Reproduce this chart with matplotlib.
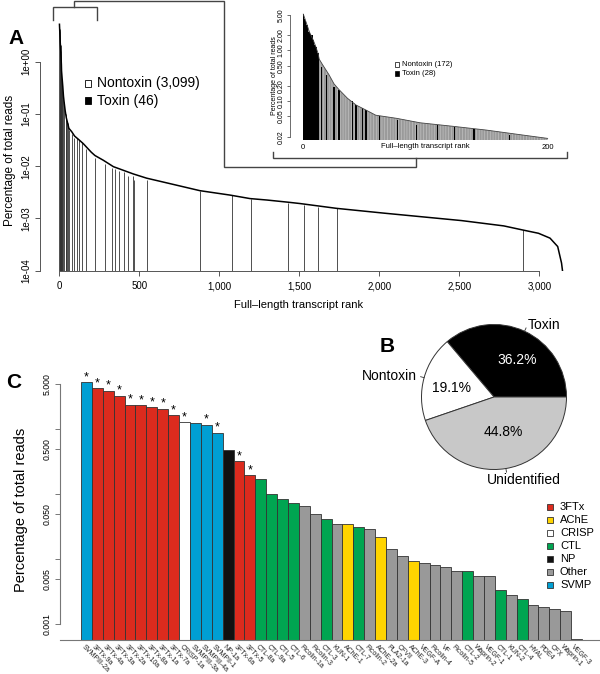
import matplotlib
matplotlib.use('Agg')
import matplotlib.pyplot as plt
from matplotlib.patches import Rectangle
from matplotlib.ticker import NullLocator
import numpy as np

plt.rcParams['font.family'] = ['Liberation Sans', 'DejaVu Sans']
plt.rcParams['hatch.linewidth'] = 0.45

# ---------------- DATA ----------------
# Rank-abundance curve of all full-length transcripts
curve_rank = [1, 4, 6, 9, 11, 13, 14, 17, 22, 26, 30, 37, 44, 52, 60, 77, 96, 123, 150, 177,
              200, 223, 275, 338, 463, 546, 671, 879, 1067, 1192, 1299, 1427, 1504, 1733,
              2033, 2514, 2778, 2898, 2995, 3067, 3115, 3139, 3145]
curve_value = [5.2, 3.22, 2.31, 1.62, 1.22, 0.877, 0.67, 0.51, 0.33, 0.22, 0.17, 0.114, 0.084,
               0.067, 0.053, 0.046, 0.0376, 0.032, 0.027, 0.022, 0.0185, 0.016, 0.013, 0.0098,
               0.0071, 0.0059, 0.0048, 0.0034, 0.0028, 0.0024, 0.00225, 0.00205, 0.00193,
               0.00156, 0.00126, 0.00091, 0.00072, 0.0006, 0.00052, 0.00042, 0.00029,
               0.00014, 0.0001]

# Toxin transcripts (46), ordered by abundance
toxin_names = ["SVMPIII-2a", "3FTx-9a", "3FTx-4a", "3FTx-3a", "3FTx-2a", "3FTx-10a", "3FTx-8a",
               "3FTx-1a", "3FTx-7a", "CRISP-1a", "SVMPIII-3a", "SVMPIII-4a", "SVMPII-1", "NP-1a",
               "3FTx-6a", "3FTx-5", "CTL-8a", "CTL-9a", "CTL-5", "CTL-6", "Ficolin-1a",
               "Ficolin-3", "CTL-3", "KUN-1", "AChE-1", "CTL-7", "Ficolin-2", "AChE-2a",
               "PLA2-1a", "CFVII", "AChE-3", "VEGF-A", "Ficolin-4", "VF", "Ficolin-5", "CTL-2",
               "Waprin-2", "VEGF-1", "CTL-1", "KUN-2", "CTL-4", "HYAL", "PDE4", "CFX",
               "Waprin-1", "VEGF-3"]
toxin_class = ["SVMP"] + ["3FTx"] * 8 + ["CRISP"] + ["SVMP"] * 3 + ["NP"] + ["3FTx"] * 2 + \
              ["CTL"] * 4 + ["Other"] * 2 + ["CTL", "Other", "AChE", "CTL", "Other", "AChE",
              "Other", "Other", "AChE", "Other", "Other", "Other", "Other", "CTL", "Other",
              "Other", "CTL", "Other", "CTL", "Other", "Other", "Other", "Other", "Other"]
toxin_value = [5.2, 4.23, 3.89, 3.22, 2.36, 2.31, 2.15, 2.05, 1.62, 1.28, 1.22, 1.16, 0.877,
               0.47, 0.322, 0.194, 0.168, 0.099, 0.083, 0.073, 0.066, 0.050, 0.042, 0.0345,
               0.0345, 0.0314, 0.0286, 0.0216, 0.0143, 0.0111, 0.0094, 0.0088, 0.0081, 0.0076,
               0.0066, 0.0066, 0.0055, 0.0055, 0.0034, 0.0028, 0.0024, 0.00196, 0.00181,
               0.00168, 0.00158, 0.0006]
toxin_rank = [1, 2, 3, 4, 5, 6, 7, 8, 9, 10, 11, 12, 13, 16, 20, 26, 30, 41, 44, 49, 52, 63,
              78, 93, 110, 124, 140, 169, 223, 286, 327, 348, 375, 404, 427, 463, 470, 546,
              879, 1078, 1198, 1427, 1528, 1620, 1733, 2898]
toxin_star = [1, 1, 1, 1, 1, 1, 1, 1, 1, 1, 0, 1, 1, 0, 1, 1] + [0] * 30

class_names = ["3FTx", "AChE", "CRISP", "CTL", "NP", "Other", "SVMP"]
class_colors = {"3FTx": "#DC2B1E", "AChE": "#FFD400", "CRISP": "#FFFFFF", "CTL": "#00A551",
                "NP": "#111111", "Other": "#999999", "SVMP": "#009FD3"}

pie_labels = ["Toxin", "Nontoxin", "Unidentified"]
pie_values = [36.2, 19.1, 44.8]
pie_colors = ["#000000", "#FFFFFF", "#C8C8C8"]

main_legend = ["Nontoxin (3,099)", "Toxin (46)"]
inset_legend = ["Nontoxin (172)", "Toxin (28)"]

# ---------------- FIGURE ----------------
W, H = 600, 674
fig = plt.figure(figsize=(6, 6.74), dpi=100)


def rect(l, t, r, b):
    return [l / W, 1 - b / H, (r - l) / W, (b - t) / H]


AX_COL = '#555555'

# ----- Panel A main -----
axA = fig.add_axes(rect(40, 20, 582, 270.7))
axA.set_yscale('log')
axA.set_xlim(-120.6, 3266.9)
axA.set_ylim(1e-4, 6.28)
axA.vlines(toxin_rank, 1e-4, toxin_value, color='#333333', lw=0.6, zorder=2)
axA.plot(curve_rank, curve_value, color='black', lw=1.1, zorder=3)
for s in ['top', 'right']:
    axA.spines[s].set_visible(False)
for s in ['left', 'bottom']:
    axA.spines[s].set_color(AX_COL)
    axA.spines[s].set_linewidth(0.7)
axA.spines['left'].set_bounds(1e-4, 1)
axA.spines['bottom'].set_bounds(0, 3000)
axA.set_yticks([1e-4, 1e-3, 1e-2, 1e-1, 1])
axA.set_yticklabels(['1e-04', '1e-03', '1e-02', '1e-01', '1e+00'], rotation=90, va='center')
axA.yaxis.set_minor_locator(NullLocator())
axA.set_xticks([0, 500, 1000, 1500, 2000, 2500, 3000])
axA.set_xticklabels(['0', '500', '1,000', '1,500', '2,000', '2,500', '3,000'])
axA.tick_params(length=3.6, width=0.7, color=AX_COL, labelsize=7, pad=2.5)
axA.tick_params(axis='x', pad=4)
axA.patch.set_alpha(0)

# ----- Inset -----
axI = fig.add_axes(rect(290, 12, 556, 140))
axI.set_yscale('log')
ybotI = 0.0172
axI.set_xlim(-10.34, 206.3)
axI.set_ylim(ybotI, 5.73)
sel = [i for i, r in enumerate(curve_rank) if r <= 200]
xs = [curve_rank[i] - 0.5 for i in sel]
ys = [curve_value[i] for i in sel]
axI.fill_between(xs, ybotI, ys, facecolor='#9a9a9a', edgecolor='#c4c4c4', hatch='||||||',
                 lw=0, zorder=1)
tsel = [i for i, r in enumerate(toxin_rank) if r <= 200]
axI.bar([toxin_rank[i] - 0.5 for i in tsel], [toxin_value[i] - ybotI for i in tsel],
        bottom=ybotI, width=1.0, color='black', lw=0, zorder=2)
axI.plot(xs, ys, color='#444444', lw=0.6, zorder=3)
for s in ['top', 'right', 'bottom']:
    axI.spines[s].set_visible(False)
axI.spines['left'].set_bounds(0.02, 5)
axI.spines['left'].set_color(AX_COL)
axI.spines['left'].set_linewidth(0.6)
axI.set_yticks([0.02, 0.05, 0.1, 0.2, 0.5, 1, 2, 5])
axI.set_yticklabels(['0.02', '0.05', '0.10', '0.20', '0.50', '1.00', '2.00', '5.00'],
                    rotation=90, va='center')
axI.yaxis.set_minor_locator(NullLocator())
axI.set_xticks([0, 200])
axI.set_xticklabels(['0', '200'])
axI.tick_params(axis='y', length=2.2, width=0.6, color=AX_COL, labelsize=5, pad=1.5)
axI.tick_params(axis='x', length=0, labelsize=5.5, pad=3)
axI.patch.set_alpha(0)

# ----- Panel C -----
axC = fig.add_axes(rect(60, 364, 600, 640))
axC.set_yscale('log')
ybotC = 0.00057
axC.set_xlim(-1.43, 48.15)
axC.set_ylim(ybotC, 10)
xpos = np.arange(1, len(toxin_value) + 1)
cols = [class_colors[c] for c in toxin_class]
axC.bar(xpos, [v - ybotC for v in toxin_value], bottom=ybotC, width=1.0, color=cols,
        edgecolor='#333333', lw=0.6, zorder=2)
for x, v, s in zip(xpos, toxin_value, toxin_star):
    if s:
        axC.annotate('*', xy=(x, v), xytext=(0, 1.5), textcoords='offset points',
                     ha='center', va='baseline', fontsize=9)
for x, name in zip(xpos, toxin_names):
    axC.annotate(name, xy=(x, 0), xycoords=('data', 'axes fraction'), xytext=(-1.2, -2.2),
                 textcoords='offset points', rotation=-45, rotation_mode='anchor',
                 ha='left', va='top', fontsize=5.0, color='#222222')
for s in ['top', 'right']:
    axC.spines[s].set_visible(False)
for s in ['left', 'bottom']:
    axC.spines[s].set_color('#777777')
    axC.spines[s].set_linewidth(0.8)
axC.spines['left'].set_bounds(0.001, 5)
axC.set_yticks([0.001, 0.005, 0.01, 0.05, 0.1, 0.5, 1, 5])
axC.set_yticklabels(['0.001', '0.005', '', '0.050', '', '0.500', '', '5.000'],
                    rotation=90, va='center')
axC.yaxis.set_minor_locator(NullLocator())
axC.set_xticks([])
axC.tick_params(axis='y', length=3.6, width=0.7, color='#777777', labelsize=6.3, pad=2.5)
axC.patch.set_alpha(0)

# ----- Panel B pie -----
cx, cy, R = 494, 397, 72.5
axP = fig.add_axes(rect(cx - R, cy - R, cx + R, cy + R))
axP.pie(pie_values, colors=pie_colors, startangle=0, counterclock=True,
        wedgeprops=dict(edgecolor='#333333', linewidth=0.7))
axP.set_xlim(-1, 1)
axP.set_ylim(-1, 1)
fracs = np.array(pie_values) / np.sum(pie_values)
starts = np.concatenate([[0], np.cumsum(fracs)[:-1]]) * 360
mids = np.deg2rad(starts + fracs * 180)
for k, ang in enumerate(mids):
    axP.plot([np.cos(ang), 1.05 * np.cos(ang)], [np.sin(ang), 1.05 * np.sin(ang)],
             color='#333333', lw=0.6, clip_on=False)
axP.text(1.1 * np.cos(mids[0]), 1.1 * np.sin(mids[0]), pie_labels[0], ha='left', va='center',
         fontsize=10, clip_on=False)
axP.text(1.1 * np.cos(mids[1]), 1.1 * np.sin(mids[1]), pie_labels[1], ha='right', va='center',
         fontsize=10, clip_on=False)
axP.text(0.41, -1.15, pie_labels[2], ha='center', va='center', fontsize=10, clip_on=False)
pct_pos = [(0.6, 58.5), (0.6, 168.0), (0.5, 284.5)]
pct_col = ['white', 'black', 'black']
for (rr, aa), v, c in zip(pct_pos, pie_values, pct_col):
    axP.text(rr * np.cos(np.deg2rad(aa)), rr * np.sin(np.deg2rad(aa)), f"{v:.1f}%",
             ha='center', va='center', fontsize=10, color=c)

# ----- Overlay (labels, legends, brackets) -----
ov = fig.add_axes([0, 0, 1, 1])
ov.set_xlim(0, W)
ov.set_ylim(H, 0)
ov.axis('off')
ov.patch.set_alpha(0)

ov.text(8, 38, 'A', fontsize=15, fontweight='bold', ha='left', va='center')
ov.text(380, 347, 'B', fontsize=15, fontweight='bold', ha='left', va='center')
ov.text(6, 383, 'C', fontsize=15, fontweight='bold', ha='left', va='center')

# axis titles
ov.text(10, 160, 'Percentage of total reads', rotation=90, ha='center', va='center', fontsize=8.5)
ov.text(299, 305, 'Full\u2013length transcript rank', ha='center', va='center', fontsize=8)
ov.text(275, 76, 'Percentage of total reads', rotation=90, ha='center', va='center', fontsize=5)
ov.text(425, 147, 'Full\u2013length transcript rank', ha='center', va='center', fontsize=5.5)
ov.text(21, 510, 'Percentage of total reads', rotation=90, ha='center', va='center', fontsize=10.5)

# main legend
for k, (lab, fc) in enumerate(zip(main_legend, ['white', 'black'])):
    y = 83.5 + 17 * k
    ov.add_patch(Rectangle((84.5, y - 3.3), 6.6, 6.6, facecolor=fc, edgecolor='black', lw=0.6))
    ov.text(97, y, lab, ha='left', va='center', fontsize=10)
# inset legend
for k, (lab, fc) in enumerate(zip(inset_legend, ['white', 'black'])):
    y = 64.5 + 9 * k
    ov.add_patch(Rectangle((395, y - 2.2), 4.4, 4.4, facecolor=fc, edgecolor='black', lw=0.5))
    ov.text(402, y, lab, ha='left', va='center', fontsize=5.5)
# panel C legend
for k, name in enumerate(class_names):
    y = 507 + 13 * k
    ov.add_patch(Rectangle((546.5, y - 3.3), 6.6, 6.6, facecolor=class_colors[name],
                           edgecolor='#333333', lw=0.6))
    ov.text(560, y, name, ha='left', va='center', fontsize=8)

# brackets and connector
BR = dict(color='#444444', lw=1.0, solid_joinstyle='miter')
ov.plot([52.7, 52.7, 97.3, 97.3], [20, 7.3, 7.3, 20], **BR)
ov.plot([74, 74, 224, 224, 416, 416], [7.3, 1.2, 1.2, 166.7, 166.7, 158], **BR)
ov.plot([273.3, 273.3, 566.7, 566.7], [151.7, 158, 158, 151.7], **BR)

fig.savefig('out.png', dpi=100)
